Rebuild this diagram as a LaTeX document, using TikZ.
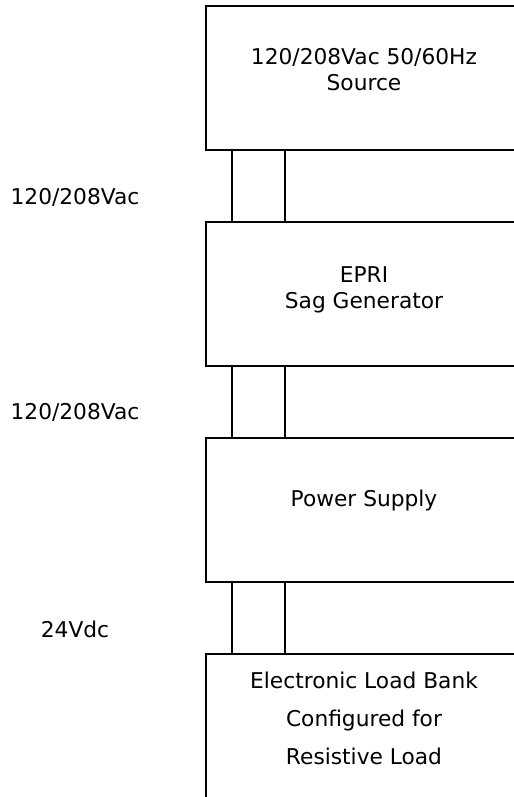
\documentclass[tikz,border=0pt]{standalone}
\usepackage{fontspec}
\setmainfont{DejaVu Sans}

\begin{document}
\begin{tikzpicture}[x=0.75pt,y=-0.75pt,
    blk/.style={draw, line width=1.5pt, outer sep=0pt, inner sep=0pt,
                minimum width=237pt, minimum height=108pt, anchor=north west},
    txt/.style={align=center, inner sep=0pt, font=\fontsize{16.3}{19.5}\selectfont},
    wire/.style={line width=1.5pt}]
    \useasboundingbox (0,0) rectangle (514,797);
    \clip (0,0) rectangle (514,797);

    % blocks
    \node[blk] (src) at (206,6) {};
    \node[blk] (sag) at (206,222) {};
    \node[blk] (psu) at (206,438) {};
    \node[blk, minimum height=130pt] (load) at (206,654) {};

    \node[txt] (srctxt) at (364,70) {120/208Vac 50/60Hz\\Source};
    \node[txt] (sagtxt) at (364,290) {EPRI\\Sag Generator};
    \node[txt] (psutxt) at (364,500) {Power Supply};
    \node[txt, font=\fontsize{16.3}{28.5}\selectfont] (loadtxt) at (364,718)
        {Electronic Load Bank\\Configured for\\Resistive Load};

    % two-wire links
    \foreach \a/\b in {src/sag, sag/psu, psu/load} {
        \draw[wire] ([xshift=19.5pt]\a.south west) -- ([xshift=19.5pt]\b.north west);
        \draw[wire] ([xshift=59.25pt]\a.south west) -- ([xshift=59.25pt]\b.north west);
    }

    % voltage labels
    \node[txt] (vac1) at (75,197.5) {120/208Vac};
    \node[txt] (vac2) at (75,412) {120/208Vac};
    \node[txt] (vdc) at (75,629.5) {24Vdc};
\end{tikzpicture}
\end{document}
